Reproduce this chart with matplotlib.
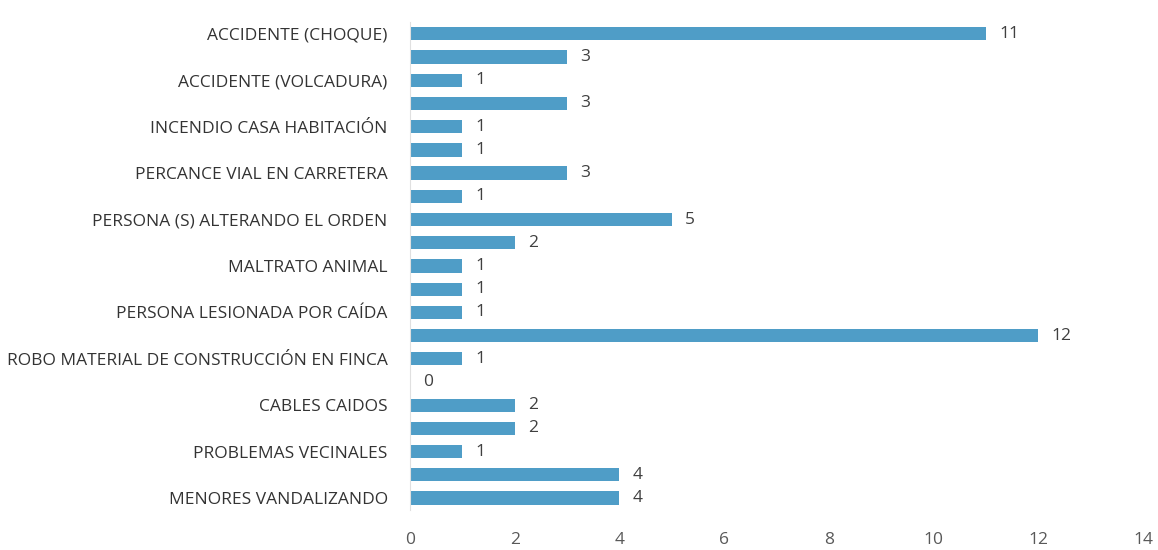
import numpy as np
import matplotlib.pyplot as plt

# categories top -> bottom (only every other one is labelled in the source)
categorias = [
    "ACCIDENTE (CHOQUE)", "",
    "ACCIDENTE (VOLCADURA)", "",
    "INCENDIO CASA HABITACIÓN", "",
    "PERCANCE VIAL EN CARRETERA", "",
    "PERSONA (S) ALTERANDO EL ORDEN", "",
    "MALTRATO ANIMAL", "",
    "PERSONA LESIONADA POR CAÍDA", "",
    "ROBO MATERIAL DE CONSTRUCCIÓN EN FINCA", "",
    "CABLES CAIDOS", "",
    "PROBLEMAS VECINALES", "",
    "MENORES VANDALIZANDO",
]
valores = [11, 3, 1, 3, 1, 1, 3, 1, 5, 2, 1, 1, 1, 12, 1, 0, 2, 2, 1, 4, 4]
xticks = [0, 2, 4, 6, 8, 10, 12, 14]

plt.rcParams['font.family'] = ['Open Sans', 'DejaVu Sans']

fig = plt.figure(figsize=(11.58, 5.5), dpi=100)
ax = fig.add_axes([0.354, 0.0735, 0.633, 0.886])

y = np.arange(len(valores))
ax.barh(y, valores, height=0.57, color='#4f9dc7')

for yi, v in zip(y, valores):
    ax.text(v + 0.25, yi, str(v), va='center', ha='left', fontsize=12.5, color='#404040')

ax.set_ylim(len(valores) - 0.5, -0.5)
ax.set_xlim(0, 14)
ax.set_yticks(y)
ax.set_yticklabels(categorias, fontsize=12.5, color='#333333')
ax.set_xticks(xticks)
ax.set_xticklabels([str(t) for t in xticks], fontsize=12.5, color='#595959')
ax.tick_params(axis='both', length=0)
ax.tick_params(axis='y', pad=16)
ax.tick_params(axis='x', pad=16)

for s in ['top', 'right', 'bottom']:
    ax.spines[s].set_visible(False)
ax.spines['left'].set_color('#e0e0e0')

fig.savefig('out.png', dpi=100)
